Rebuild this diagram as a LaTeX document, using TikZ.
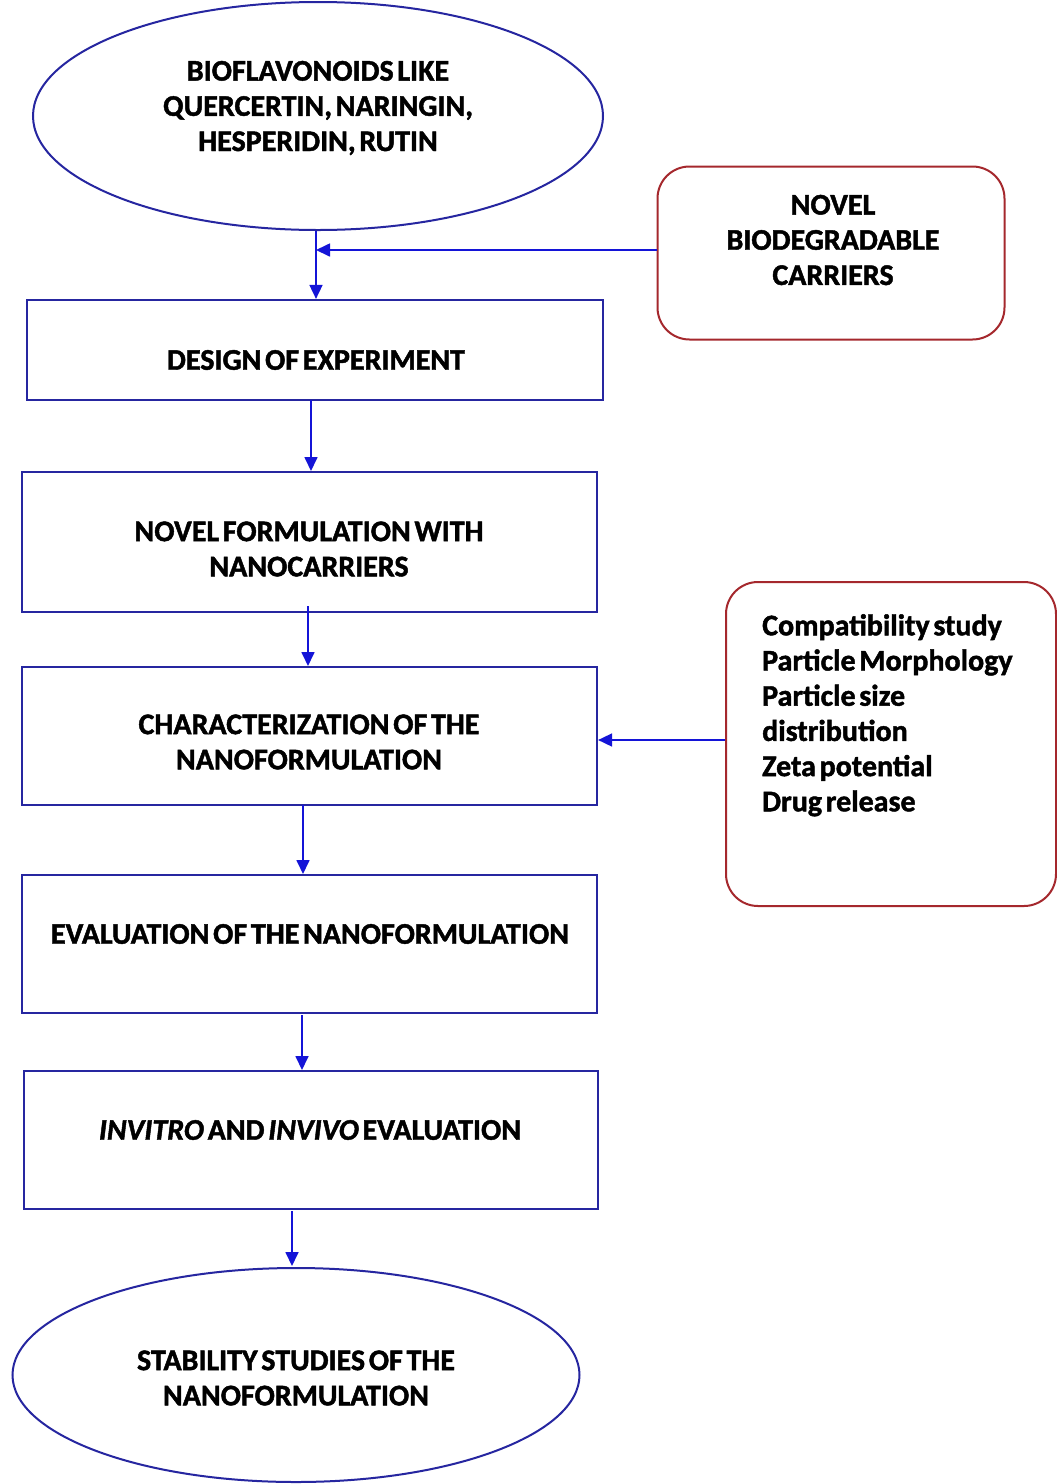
\documentclass[tikz,border=0pt]{standalone}
\usepackage{fontspec}
\setmainfont{Carlito}[WordSpace=0.55,BoldFeatures={FakeBold=1.5},BoldItalicFeatures={FakeBold=1.5}]
\usetikzlibrary{shapes.geometric,arrows.meta}
\definecolor{boxblue}{RGB}{38,38,160}
\definecolor{arrblue}{RGB}{20,20,215}
\definecolor{boxred}{RGB}{165,40,45}
\begin{document}
\begin{tikzpicture}[x=1pt,y=-1pt,
  flowbox/.style={draw=boxblue,line width=2.2pt,rectangle,inner sep=0pt},
  oval/.style={draw=boxblue,line width=2pt,ellipse,inner sep=0pt},
  sidebox/.style={draw=boxred,line width=2pt,rounded corners=32pt,inner sep=0pt},
  txt/.style={font=\fontsize{30}{35.2}\selectfont\bfseries,align=center,inner sep=0pt},
  conn/.style={draw=arrblue,line width=1.7pt,-{Triangle[length=14pt,width=13pt]}}]
\useasboundingbox (0,0) rectangle (1057,1484);
\fill[white] (0,0) rectangle (1057,1484);
% shapes
\node[oval,minimum width=570pt,minimum height=228pt] (e1) at (318,116) {};
\node[txt] (t0) at (318,108) {BIOFLAVONOIDS LIKE\\QUERCERTIN, NARINGIN,\\HESPERIDIN, RUTIN};
\node[sidebox,minimum width=347pt,minimum height=173pt] (s1) at (831,253) {};
\node[txt] (ts1) at (833,240) {NOVEL\\BIODEGRADABLE\\CARRIERS};
\node[flowbox,minimum width=576pt,minimum height=100pt] (b1) at (315,350) {};
\node[txt] (t1) at (316,360) {DESIGN OF EXPERIMENT};
\node[flowbox,minimum width=575pt,minimum height=140pt] (b2) at (309.5,542) {};
\node[txt] (t2) at (309,549) {NOVEL FORMULATION WITH\\NANOCARRIERS};
\node[flowbox,minimum width=575pt,minimum height=138pt] (b3) at (309.5,736) {};
\node[txt] (t3) at (309,742) {CHARACTERIZATION OF THE\\NANOFORMULATION};
\node[sidebox,minimum width=330pt,minimum height=324pt] (s2) at (891,744) {};
\node[txt,align=left,anchor=north west] (ts2) at (762,614) {Compatibility study\\Particle Morphology\\Particle size\\distribution\\Zeta potential\\Drug release};
\node[flowbox,minimum width=575pt,minimum height=138pt] (b4) at (309.5,944) {};
\node[txt] (t4) at (310,934) {EVALUATION OF THE NANOFORMULATION};
\node[flowbox,minimum width=574pt,minimum height=138pt] (b5) at (311,1140) {};
\node[txt] (t5) at (310,1130) {\textit{INVITRO} AND \textit{INVIVO} EVALUATION};
\node[oval,minimum width=567pt,minimum height=214pt] (e2) at (296,1375) {};
\node[txt] (t6) at (296,1378) {STABILITY STUDIES OF THE\\NANOFORMULATION};
% connectors
\coordinate (j1) at (316,250);
\draw[conn] (e1.south -| j1) -- (b1.north -| j1);
\draw[conn] (s1.west |- j1) -- (j1);
\draw[conn] (311,400) -- (311,471);
\draw[conn] (308,606) -- (308,666);
\draw[conn] (s2.west |- 0,740) -- (b3.east |- 0,740);
\draw[conn] (303,805) -- (303,874);
\draw[conn] (302,1015) -- (302,1070);
\draw[conn] (292,1211) -- (292,1266);
\end{tikzpicture}
\end{document}
